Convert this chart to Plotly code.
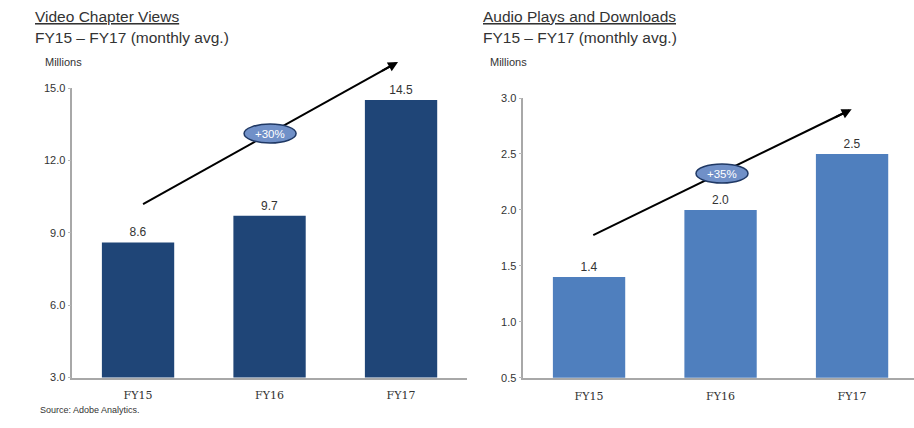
import plotly.graph_objects as go

W, H = 914, 428

categories = ["FY15", "FY16", "FY17"]
video_views = [8.6, 9.7, 14.5]
audio_plays = [1.4, 2.0, 2.5]
video_ticks = [3.0, 6.0, 9.0, 12.0, 15.0]
audio_ticks = [0.5, 1.0, 1.5, 2.0, 2.5, 3.0]
video_growth = "+30%"
audio_growth = "+35%"

NAVY = "#1F4577"
LIGHT = "#4F7FBE"
TXT = "#333333"
FONT = "Liberation Sans, Arial, sans-serif"

def px_x(p):
    return p / W

def px_y(p):
    return 1 - p / H

# subplot geometry (paper fractions) and axis ranges
X1_DOM = [px_x(72.3), px_x(466.8)]
Y1_DOM = [px_y(377.5), px_y(88)]
X2_DOM = [px_x(523.3), 1.0]
Y2_DOM = [px_y(377.7), px_y(98)]
X1_RNG = [-0.5, 2.5]
Y1_RNG = [3.0, 15.0]
X2_RNG = [-0.5, 2.471]
Y2_RNG = [0.5, 3.0]

def to_paper(v, dom, rng):
    return dom[0] + (v - rng[0]) / (rng[1] - rng[0]) * (dom[1] - dom[0])

fig = go.Figure()
fig.add_trace(go.Bar(x=categories, y=video_views, marker=dict(color=NAVY, line_width=0),
                     text=[f"{v:.1f}" for v in video_views], textposition="outside",
                     textfont=dict(size=12, color=TXT, family=FONT), cliponaxis=False,
                     xaxis="x", yaxis="y", width=0.55, showlegend=False))
fig.add_trace(go.Bar(x=categories, y=audio_plays, marker=dict(color=LIGHT, line_width=0),
                     text=[f"{v:.1f}" for v in audio_plays], textposition="outside",
                     textfont=dict(size=12, color=TXT, family=FONT), cliponaxis=False,
                     xaxis="x2", yaxis="y2", width=0.55, showlegend=False))

line_common = dict(showgrid=False, zeroline=False, showline=True, linecolor="#A8A8A8",
                   linewidth=1.5, fixedrange=True, automargin=False)
xfont = dict(size=11, color=TXT, family="DejaVu Serif, serif")
yfont = dict(size=11, color=TXT, family=FONT)

fig.update_layout(
    template=None,
    width=W, height=H, autosize=False,
    margin=dict(l=0, r=0, t=0, b=0, pad=0),
    plot_bgcolor="white", paper_bgcolor="white",
    xaxis=dict(domain=X1_DOM, range=X1_RNG, anchor="y",
               ticks="outside", ticklen=7, tickcolor="rgba(0,0,0,0)", tickfont=xfont, **line_common),
    yaxis=dict(domain=Y1_DOM, range=Y1_RNG, anchor="x",
               tickvals=video_ticks, ticktext=[f"{t:.1f}" for t in video_ticks],
               ticks="outside", ticklen=3, tickcolor="#B8B8B8", tickfont=yfont, **line_common),
    xaxis2=dict(domain=X2_DOM, range=X2_RNG, anchor="y2",
                ticks="outside", ticklen=7, tickcolor="rgba(0,0,0,0)", tickfont=xfont, **line_common),
    yaxis2=dict(domain=Y2_DOM, range=Y2_RNG, anchor="x2",
                tickvals=audio_ticks, ticktext=[f"{t:.1f}" for t in audio_ticks],
                ticks="outside", ticklen=3, tickcolor="#B8B8B8", tickfont=yfont, **line_common),
)

ann = []
def text(x, y, s, size, color=TXT, **kw):
    ann.append(dict(x=px_x(x), y=px_y(y), xref="paper", yref="paper", text=s, showarrow=False,
                    xanchor="left", yanchor="middle", font=dict(size=size, color=color, family=FONT), **kw))

text(33, 16, "<u>Video Chapter Views</u>", 15.5)
text(33, 37, "FY15 – FY17 (monthly avg.)", 15.5)
text(43, 62, "Millions", 11)
text(481, 16, "<u>Audio Plays and Downloads</u>", 15.5)
text(481, 37, "FY15 – FY17 (monthly avg.)", 15.5)
text(488, 62, "Millions", 11)
text(38, 410, "Source: Adobe Analytics.", 9)

shapes = []
# trend arrows (positions in each subplot's value space, converted to paper so they are not clipped)
arrows = [
    (X1_DOM, X1_RNG, Y1_DOM, Y1_RNG, 0.038, 10.19, 1.924, 15.92, 1.977, 16.08, -17.5, 9.8),
    (X2_DOM, X2_RNG, Y2_DOM, Y2_RNG, 0.032, 1.775, 1.942, 2.868, 1.997, 2.899, -18.0, 8.75),
]
for xd, xrg, yd, yrg, x0, y0, x1, y1, tx, ty, hax, hay in arrows:
    shapes.append(dict(type="line", xref="paper", yref="paper",
                       x0=to_paper(x0, xd, xrg), y0=to_paper(y0, yd, yrg),
                       x1=to_paper(x1, xd, xrg), y1=to_paper(y1, yd, yrg),
                       line=dict(color="black", width=2)))
    ann.append(dict(xref="paper", yref="paper", x=to_paper(tx, xd, xrg), y=to_paper(ty, yd, yrg),
                    ax=hax, ay=hay, showarrow=True,
                    arrowhead=2, arrowsize=1, arrowwidth=2, arrowcolor="black", text=""))

# growth badges
for xr, yr, cx, cy, label in [("x", "y", 1.004, 13.11, video_growth), ("x2", "y2", 1.011, 2.325, audio_growth)]:
    shapes.append(dict(type="circle", xref=xr, yref=yr, xsizemode="pixel", ysizemode="pixel",
                       xanchor=cx, yanchor=cy, x0=-26, x1=26, y0=-9.5, y1=9.5,
                       fillcolor="#7090C8", line=dict(color="#1F3864", width=1.5)))
    ann.append(dict(xref=xr, yref=yr, x=cx, y=cy, text=label, showarrow=False,
                    font=dict(size=11.5, color="white", family=FONT)))

fig.update_layout(annotations=ann, shapes=shapes)
fig.write_html("out.html")
